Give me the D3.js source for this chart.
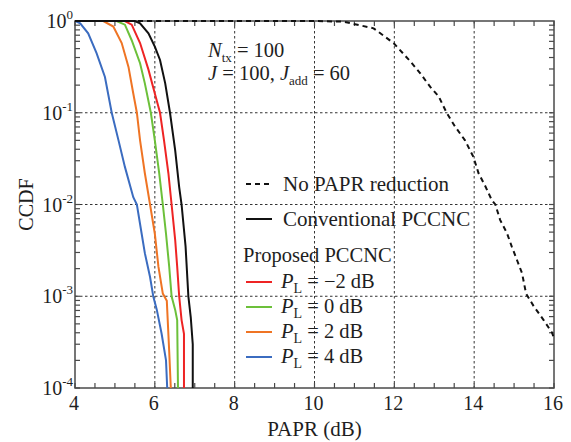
<!DOCTYPE html>
<html>
<head>
<meta charset="utf-8">
<script src="https://cdn.jsdelivr.net/npm/d3@7"></script>
<style>
  body { margin: 0; background: #fff; }
  svg { display: block; }
  svg text { font-family: 'Liberation Serif', 'Times New Roman', Times, serif; }
</style>
</head>
<body>
<svg id="chart" width="571" height="442"></svg>
<script>
// values (PAPR in dB, CCDF)
const noRedX = [4, 10.0, 10.72, 11.48, 11.98, 12.40, 12.65, 12.90, 13.11, 13.31, 13.52, 13.77, 13.98, 14.11, 14.28, 14.44, 14.53, 14.65, 14.82, 14.94, 15.07, 15.20, 15.30, 15.49, 15.74, 15.95, 16];
const noRedY = [1, 1, 0.984, 0.832, 0.575, 0.363, 0.269, 0.191, 0.151, 0.1, 0.0708, 0.0501, 0.0331, 0.0219, 0.0158, 0.0112, 0.01, 6.8e-3, 4.9e-3, 3.5e-3, 2.5e-3, 1.78e-3, 1.07e-3, 7.8e-4, 5.5e-4, 4.0e-4, 3.5e-4];

const convX = [4, 5.5, 5.63, 5.84, 6.0, 6.13, 6.26, 6.38, 6.51, 6.61, 6.67, 6.77, 6.84, 6.90, 6.95, 6.95];
const convY = [1, 1, 0.944, 0.733, 0.525, 0.376, 0.209, 0.1, 0.039, 0.0155, 0.01, 3.5e-3, 1e-3, 5.9e-4, 3.0e-4, 1e-4];

const pm2X = [4, 5.25, 5.42, 5.63, 5.84, 6.0, 6.13, 6.23, 6.34, 6.42, 6.51, 6.56, 6.61, 6.67, 6.73, 6.73];
const pm2Y = [1, 1, 0.912, 0.575, 0.295, 0.162, 0.1, 0.05, 0.0219, 0.01, 4.1e-3, 2.1e-3, 1e-3, 5.5e-4, 3.9e-4, 1e-4];

const p0X = [4, 5.04, 5.25, 5.42, 5.63, 5.75, 5.90, 6.0, 6.11, 6.2, 6.28, 6.36, 6.42, 6.51, 6.56, 6.58];
const p0Y = [1, 1, 0.912, 0.617, 0.347, 0.209, 0.1, 0.05, 0.0219, 0.01, 4.8e-3, 2.1e-3, 1e-3, 7.1e-4, 5.5e-4, 1e-4];

const p2X = [4, 4.71, 4.96, 5.17, 5.34, 5.46, 5.55, 5.63, 5.75, 5.88, 6.0, 6.09, 6.2, 6.30, 6.36, 6.40];
const p2Y = [1, 1, 0.871, 0.575, 0.316, 0.162, 0.1, 0.05, 0.0219, 0.01, 4.8e-3, 2.1e-3, 1.07e-3, 8.9e-4, 2.5e-4, 1e-4];

const p4X = [4, 4.13, 4.33, 4.54, 4.75, 4.92, 5.09, 5.25, 5.46, 5.55, 5.67, 5.75, 5.88, 5.96, 6.05, 6.17, 6.28, 6.31];
const p4Y = [1, 0.944, 0.733, 0.447, 0.245, 0.1, 0.05, 0.0257, 0.012, 0.01, 4.8e-3, 2.95e-3, 1.62e-3, 1e-3, 7.1e-4, 3.9e-4, 2e-4, 1e-4];

const xTicks = [4, 6, 8, 10, 12, 14, 16];
const yExps = [0, -1, -2, -3, -4];
const plNames = ["\u22122", "0", "2", "4"];

const svg = d3.select("#chart")
  .attr("font-family", "'Liberation Serif', 'Times New Roman', Times, serif");
const margin = { top: 21, right: 17, bottom: 54, left: 75 };
const W = 571, H = 442;
const innerW = W - margin.left - margin.right;
const innerH = H - margin.top - margin.bottom;

const x = d3.scaleLinear().domain([4, 16]).range([margin.left, margin.left + innerW]);
const y = d3.scaleLog().domain([1e-4, 1]).range([margin.top + innerH, margin.top]);

const gridCol = "#333";
const frameCol = "#4a4a4a";
const textCol = "#1e1e1e";

svg.append("defs").append("clipPath").attr("id", "clip")
  .append("rect")
  .attr("x", margin.left).attr("y", margin.top - 2)
  .attr("width", innerW).attr("height", innerH + 2);

// grid
const grid = svg.append("g");
grid.selectAll("line.gx")
  .data(xTicks.slice(1, -1))
  .join("line")
  .attr("x1", d => x(d)).attr("x2", d => x(d))
  .attr("y1", margin.top).attr("y2", margin.top + innerH)
  .attr("stroke", gridCol).attr("stroke-width", 1)
  .attr("stroke-dasharray", "2.5,2.5");
grid.selectAll("line.gy")
  .data(yExps.slice(1, -1))
  .join("line")
  .attr("x1", margin.left).attr("x2", margin.left + innerW)
  .attr("y1", d => y(Math.pow(10, d))).attr("y2", d => y(Math.pow(10, d)))
  .attr("stroke", gridCol).attr("stroke-width", 1)
  .attr("stroke-dasharray", "2.5,2.5");

// ticks (inward on all four sides)
const xMinor = d3.range(4, 16.01, 0.5);
const ticks = svg.append("g").attr("stroke", frameCol).attr("stroke-width", 1.2);
xMinor.forEach(v => {
  ticks.append("line").attr("x1", x(v)).attr("x2", x(v))
    .attr("y1", margin.top + innerH).attr("y2", margin.top + innerH - 5);
  ticks.append("line").attr("x1", x(v)).attr("x2", x(v))
    .attr("y1", margin.top).attr("y2", margin.top + 5);
});
const yMinor = [];
for (let e = -4; e < 0; e++) {
  for (let m = 1; m < 10; m++) yMinor.push(m * Math.pow(10, e));
}
yMinor.forEach(v => {
  ticks.append("line").attr("y1", y(v)).attr("y2", y(v))
    .attr("x1", margin.left).attr("x2", margin.left + 5);
  ticks.append("line").attr("y1", y(v)).attr("y2", y(v))
    .attr("x1", margin.left + innerW).attr("x2", margin.left + innerW - 5);
});

// frame
svg.append("rect")
  .attr("x", margin.left).attr("y", margin.top)
  .attr("width", innerW).attr("height", innerH)
  .attr("fill", "none").attr("stroke", frameCol).attr("stroke-width", 1.5);

// curves
const line = d3.line()
  .x(d => x(d[0]))
  .y(d => y(d[1]));

const series = [
  { xs: noRedX, ys: noRedY, color: "#111", dash: "5,4" },
  { xs: p4X, ys: p4Y, color: "#3b6cc0", dash: null },
  { xs: p2X, ys: p2Y, color: "#ef7424", dash: null },
  { xs: p0X, ys: p0Y, color: "#6cc03a", dash: null },
  { xs: pm2X, ys: pm2Y, color: "#ee2424", dash: null },
  { xs: convX, ys: convY, color: "#111", dash: null }
];

svg.append("g").attr("clip-path", "url(#clip)")
  .selectAll("path")
  .data(series)
  .join("path")
  .attr("d", s => line(s.xs.map((v, i) => [v, s.ys[i]])))
  .attr("fill", "none")
  .attr("stroke", s => s.color)
  .attr("stroke-width", 2)
  .attr("stroke-dasharray", s => s.dash);

// x tick labels
svg.append("g").selectAll("text")
  .data(xTicks)
  .join("text")
  .attr("x", d => x(d) - 1).attr("y", 410)
  .attr("text-anchor", "middle")
  .attr("font-size", 20).attr("fill", textCol)
  .text(d => d);

// y tick labels
const yl = svg.append("g").selectAll("text")
  .data(yExps)
  .join("text")
  .attr("x", margin.left - 2).attr("y", d => y(Math.pow(10, d)) + 7)
  .attr("text-anchor", "end")
  .attr("font-size", 20).attr("fill", textCol);
yl.append("tspan").text("10");
yl.append("tspan").attr("dy", -9).attr("font-size", 13).text(d => d === 0 ? "0" : d);

// axis titles
svg.append("text")
  .attr("x", margin.left + innerW / 2).attr("y", 436)
  .attr("text-anchor", "middle").attr("font-size", 21).attr("fill", textCol)
  .text("PAPR (dB)");
svg.append("text")
  .attr("transform", `translate(33,${margin.top + innerH / 2}) rotate(-90)`)
  .attr("text-anchor", "middle").attr("font-size", 20).attr("fill", textCol)
  .text("CCDF");

// parameter annotation
const ann1 = svg.append("text").attr("x", 208).attr("y", 57)
  .attr("font-size", 20.5).attr("fill", textCol);
ann1.append("tspan").attr("font-style", "italic").text("N");
ann1.append("tspan").attr("font-size", 13).attr("dy", 5).text("tx");
ann1.append("tspan").attr("dy", -5).text(" = 100");

const ann2 = svg.append("text").attr("x", 208).attr("y", 80)
  .attr("font-size", 20.5).attr("fill", textCol);
ann2.append("tspan").attr("font-style", "italic").text("J");
ann2.append("tspan").text(" = 100, ");
ann2.append("tspan").attr("font-style", "italic").text("J");
ann2.append("tspan").attr("font-size", 13).attr("dy", 5).text("add");
ann2.append("tspan").attr("dy", -5).text(" = 60");

// legend
const leg = svg.append("g");
const legLineX0 = 246, legLineX1 = 272;

leg.append("line")
  .attr("x1", legLineX0).attr("x2", legLineX1).attr("y1", 184).attr("y2", 184)
  .attr("stroke", "#111").attr("stroke-width", 2).attr("stroke-dasharray", "5,4");
leg.append("text").attr("x", 283).attr("y", 191)
  .attr("font-size", 21).attr("fill", textCol).text("No PAPR reduction");

leg.append("line")
  .attr("x1", legLineX0).attr("x2", legLineX1).attr("y1", 219).attr("y2", 219)
  .attr("stroke", "#111").attr("stroke-width", 2);
leg.append("text").attr("x", 283).attr("y", 226)
  .attr("font-size", 21).attr("fill", textCol).text("Conventional PCCNC");

leg.append("text").attr("x", 243).attr("y", 262)
  .attr("font-size", 20.5).attr("fill", textCol).text("Proposed PCCNC");

const plColors = ["#ee2424", "#6cc03a", "#ef7424", "#3b6cc0"];
plNames.forEach((name, i) => {
  const ly = 282 + i * 25;
  leg.append("line")
    .attr("x1", legLineX0).attr("x2", legLineX1).attr("y1", ly).attr("y2", ly)
    .attr("stroke", plColors[i]).attr("stroke-width", 2);
  const t = leg.append("text").attr("x", 281).attr("y", ly + 6)
    .attr("font-size", 20.5).attr("fill", textCol);
  t.append("tspan").attr("font-style", "italic").text("P");
  t.append("tspan").attr("font-size", 14).attr("dy", 5).text("L");
  t.append("tspan").attr("dy", -5).text(` = ${name} dB`);
});
</script>
</body>
</html>
